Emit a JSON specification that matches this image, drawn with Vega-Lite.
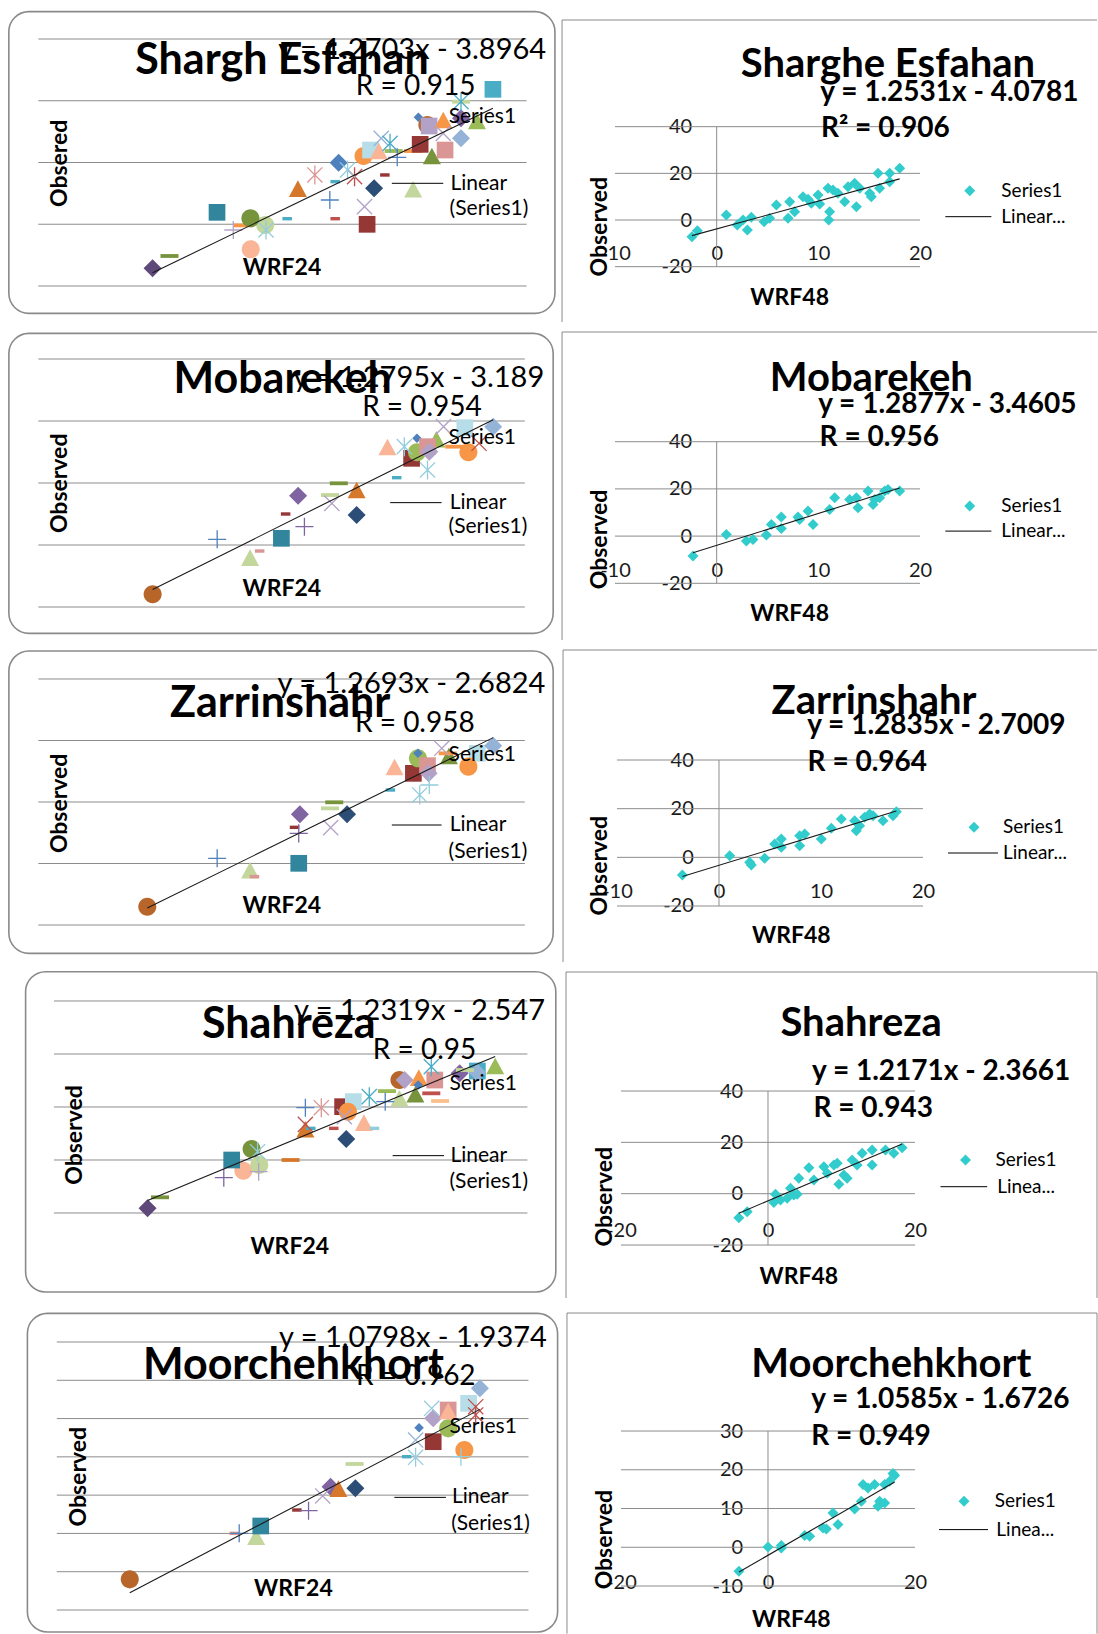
{
"$schema":"https://vega.github.io/schema/vega-lite/v6.json",
"padding":0,"spacing":0,"background":"white",
"resolve":{"scale":{"color":"independent","shape":"independent"}},
"datasets":{
"L1":[{"wrf":-2.98,"obs":-7.14,"marker":"diamond","tone":"purple-dark"},{"wrf":-1.94,"obs":-5.14,"marker":"dash","tone":"olive"},{"wrf":3.05,"obs":-4.06,"marker":"circle","tone":"peach"},{"wrf":1.98,"obs":-0.93,"marker":"plus","tone":"lavender"},{"wrf":3.99,"obs":-0.93,"marker":"asterisk","tone":"aqua-light"},{"wrf":3.94,"obs":-0.12,"marker":"circle","tone":"green-light"},{"wrf":2.57,"obs":-0.18,"marker":"dash","tone":"orange"},{"wrf":3.03,"obs":0.96,"marker":"circle","tone":"olive"},{"wrf":0.98,"obs":1.93,"marker":"square","tone":"teal-dark"},{"wrf":5.29,"obs":0.9,"marker":"sdash","tone":"aqua"},{"wrf":8.24,"obs":0.9,"marker":"sdash","tone":"red"},{"wrf":10.2,"obs":-0.01,"marker":"square","tone":"red-dark"},{"wrf":10.04,"obs":2.85,"marker":"x","tone":"lavender"},{"wrf":7.91,"obs":3.93,"marker":"plus","tone":"blue"},{"wrf":5.95,"obs":5.65,"marker":"triangle","tone":"orange-dark"},{"wrf":6.99,"obs":7.98,"marker":"asterisk","tone":"rose"},{"wrf":8.24,"obs":6.9,"marker":"sdash","tone":"aqua"},{"wrf":9.43,"obs":7.71,"marker":"asterisk","tone":"red"},{"wrf":8.45,"obs":9.97,"marker":"diamond","tone":"blue"},{"wrf":9.0,"obs":8.79,"marker":"asterisk","tone":"aqua-light"},{"wrf":10.63,"obs":5.82,"marker":"diamond","tone":"blue-dark"},{"wrf":11.29,"obs":7.98,"marker":"sdash","tone":"red-dark"},{"wrf":13.03,"obs":5.55,"marker":"triangle","tone":"green-light"},{"wrf":9.98,"obs":11.05,"marker":"circle","tone":"orange"},{"wrf":10.41,"obs":12.02,"marker":"square","tone":"sky"},{"wrf":10.92,"obs":11.75,"marker":"triangle","tone":"peach"},{"wrf":11.07,"obs":13.91,"marker":"x","tone":"blue-light"},{"wrf":11.61,"obs":13.1,"marker":"asterisk","tone":"aqua"},{"wrf":11.83,"obs":11.86,"marker":"dash","tone":"green"},{"wrf":12.05,"obs":10.84,"marker":"plus","tone":"blue"},{"wrf":13.03,"obs":11.86,"marker":"dash","tone":"orange"},{"wrf":13.46,"obs":12.94,"marker":"square","tone":"red-dark"},{"wrf":14.18,"obs":10.94,"marker":"triangle","tone":"olive"},{"wrf":14.99,"obs":12.02,"marker":"square","tone":"rose"},{"wrf":14.88,"obs":14.72,"marker":"x","tone":"lavender"},{"wrf":15.97,"obs":13.91,"marker":"diamond","tone":"blue-light"},{"wrf":13.35,"obs":17.31,"marker":"sdiamond","tone":"blue"},{"wrf":13.9,"obs":16.07,"marker":"circle","tone":"brown"},{"wrf":14.01,"obs":15.91,"marker":"square","tone":"lavender"},{"wrf":14.88,"obs":16.77,"marker":"triangle","tone":"orange"},{"wrf":15.97,"obs":17.15,"marker":"diamond","tone":"purple"},{"wrf":16.95,"obs":16.61,"marker":"triangle","tone":"green"},{"wrf":15.97,"obs":19.85,"marker":"asterisk","tone":"aqua"},{"wrf":15.97,"obs":19.85,"marker":"dash","tone":"green-light"},{"wrf":17.93,"obs":21.85,"marker":"square","tone":"aqua"}],
"L2":[{"wrf":-2.95,"obs":-7.96,"marker":"circle","tone":"brown"},{"wrf":3.06,"obs":-2.15,"marker":"triangle","tone":"green-light"},{"wrf":3.65,"obs":-0.97,"marker":"sdash","tone":"rose"},{"wrf":1.03,"obs":0.91,"marker":"plus","tone":"blue"},{"wrf":4.99,"obs":1.08,"marker":"square","tone":"teal-dark"},{"wrf":6.41,"obs":2.96,"marker":"plus","tone":"purple"},{"wrf":5.25,"obs":5.0,"marker":"sdash","tone":"red-dark"},{"wrf":6.02,"obs":7.96,"marker":"diamond","tone":"purple"},{"wrf":8.1,"obs":6.72,"marker":"x","tone":"lavender"},{"wrf":7.99,"obs":8.06,"marker":"dash","tone":"green-light"},{"wrf":8.53,"obs":9.95,"marker":"dash","tone":"olive"},{"wrf":9.63,"obs":8.76,"marker":"triangle","tone":"orange-dark"},{"wrf":9.63,"obs":4.84,"marker":"diamond","tone":"blue-dark"},{"wrf":12.1,"obs":10.86,"marker":"sdash","tone":"aqua"},{"wrf":11.53,"obs":15.7,"marker":"triangle","tone":"peach"},{"wrf":13.02,"obs":13.98,"marker":"square","tone":"red-dark"},{"wrf":14.0,"obs":12.1,"marker":"asterisk","tone":"aqua-light"},{"wrf":13.35,"obs":14.95,"marker":"circle","tone":"green"},{"wrf":13.35,"obs":17.2,"marker":"sdiamond","tone":"blue"},{"wrf":14.55,"obs":16.94,"marker":"triangle","tone":"green"},{"wrf":14.0,"obs":15.86,"marker":"square","tone":"rose"},{"wrf":14.11,"obs":15.05,"marker":"diamond","tone":"lavender"},{"wrf":14.99,"obs":19.09,"marker":"x","tone":"lavender"},{"wrf":16.3,"obs":18.92,"marker":"square","tone":"sky"},{"wrf":18.05,"obs":19.09,"marker":"diamond","tone":"blue-light"},{"wrf":16.52,"obs":14.95,"marker":"circle","tone":"orange"},{"wrf":17.18,"obs":16.4,"marker":"x","tone":"red"},{"wrf":15.65,"obs":15.86,"marker":"dash","tone":"orange"},{"wrf":12.57,"obs":15.86,"marker":"asterisk","tone":"aqua-light"}],
"L3":[{"wrf":-3.28,"obs":-7.02,"marker":"circle","tone":"brown"},{"wrf":3.06,"obs":-1.22,"marker":"triangle","tone":"green-light"},{"wrf":3.33,"obs":-2.14,"marker":"sdash","tone":"rose"},{"wrf":1.03,"obs":0.84,"marker":"plus","tone":"blue"},{"wrf":6.06,"obs":0.03,"marker":"square","tone":"teal-dark"},{"wrf":6.06,"obs":4.9,"marker":"plus","tone":"purple"},{"wrf":5.8,"obs":5.88,"marker":"sdash","tone":"red-dark"},{"wrf":6.13,"obs":8.0,"marker":"diamond","tone":"purple"},{"wrf":8.03,"obs":5.83,"marker":"x","tone":"lavender"},{"wrf":7.99,"obs":8.97,"marker":"dash","tone":"green-light"},{"wrf":8.25,"obs":9.95,"marker":"dash","tone":"olive"},{"wrf":9.04,"obs":8.0,"marker":"diamond","tone":"blue-dark"},{"wrf":11.71,"obs":11.95,"marker":"sdash","tone":"aqua"},{"wrf":11.97,"obs":15.58,"marker":"triangle","tone":"peach"},{"wrf":13.13,"obs":14.66,"marker":"square","tone":"red-dark"},{"wrf":13.52,"obs":11.14,"marker":"asterisk","tone":"aqua-light"},{"wrf":13.41,"obs":17.1,"marker":"circle","tone":"green"},{"wrf":13.41,"obs":17.91,"marker":"sdiamond","tone":"blue"},{"wrf":14.0,"obs":15.91,"marker":"square","tone":"rose"},{"wrf":14.07,"obs":14.66,"marker":"diamond","tone":"lavender"},{"wrf":14.88,"obs":18.73,"marker":"x","tone":"lavender"},{"wrf":15.32,"obs":17.37,"marker":"triangle","tone":"olive"},{"wrf":15.25,"obs":17.91,"marker":"dash","tone":"orange"},{"wrf":17.07,"obs":17.91,"marker":"square","tone":"sky"},{"wrf":18.05,"obs":19.16,"marker":"diamond","tone":"blue-light"},{"wrf":16.52,"obs":15.75,"marker":"circle","tone":"orange"},{"wrf":14.11,"obs":12.76,"marker":"plus","tone":"aqua-light"}],
"L4":[{"wrf":-4.07,"obs":-9.12,"marker":"diamond","tone":"purple-dark"},{"wrf":-3.28,"obs":-7.04,"marker":"dash","tone":"olive"},{"wrf":0.76,"obs":-3.33,"marker":"plus","tone":"purple"},{"wrf":2.0,"obs":-2.01,"marker":"circle","tone":"peach"},{"wrf":2.97,"obs":-2.2,"marker":"plus","tone":"lavender"},{"wrf":1.26,"obs":0.0,"marker":"square","tone":"teal-dark"},{"wrf":3.01,"obs":-0.94,"marker":"circle","tone":"green-light"},{"wrf":2.52,"obs":2.08,"marker":"circle","tone":"olive"},{"wrf":2.9,"obs":1.57,"marker":"asterisk","tone":"aqua-light"},{"wrf":4.99,"obs":0.0,"marker":"dash","tone":"orange-dark"},{"wrf":5.93,"obs":5.66,"marker":"triangle","tone":"orange-dark"},{"wrf":5.93,"obs":6.73,"marker":"x","tone":"red"},{"wrf":6.27,"obs":5.97,"marker":"sdash","tone":"aqua"},{"wrf":5.93,"obs":9.87,"marker":"plus","tone":"blue"},{"wrf":6.94,"obs":9.87,"marker":"asterisk","tone":"rose"},{"wrf":7.73,"obs":5.97,"marker":"sdash","tone":"red"},{"wrf":8.52,"obs":3.96,"marker":"diamond","tone":"blue-dark"},{"wrf":8.29,"obs":10.06,"marker":"square","tone":"red-dark"},{"wrf":8.97,"obs":11.01,"marker":"square","tone":"sky"},{"wrf":8.63,"obs":9.12,"marker":"circle","tone":"orange"},{"wrf":8.4,"obs":8.18,"marker":"x","tone":"lavender"},{"wrf":9.64,"obs":6.92,"marker":"triangle","tone":"peach"},{"wrf":10.31,"obs":5.97,"marker":"sdash","tone":"aqua-light"},{"wrf":9.98,"obs":11.95,"marker":"asterisk","tone":"aqua"},{"wrf":10.99,"obs":11.01,"marker":"plus","tone":"blue"},{"wrf":11.1,"obs":13.0,"marker":"dash","tone":"green"},{"wrf":11.89,"obs":11.51,"marker":"triangle","tone":"green-light"},{"wrf":12.9,"obs":12.26,"marker":"triangle","tone":"olive"},{"wrf":11.89,"obs":15.09,"marker":"circle","tone":"brown"},{"wrf":12.22,"obs":15.09,"marker":"diamond","tone":"lavender"},{"wrf":13.12,"obs":15.41,"marker":"triangle","tone":"orange"},{"wrf":13.08,"obs":14.15,"marker":"sdiamond","tone":"blue"},{"wrf":14.13,"obs":15.09,"marker":"square","tone":"rose"},{"wrf":13.91,"obs":12.58,"marker":"dash","tone":"red"},{"wrf":14.47,"obs":11.13,"marker":"dash","tone":"orange-light"},{"wrf":13.91,"obs":17.61,"marker":"asterisk","tone":"aqua"},{"wrf":15.71,"obs":16.35,"marker":"diamond","tone":"purple"},{"wrf":16.83,"obs":16.79,"marker":"square","tone":"aqua"},{"wrf":16.83,"obs":16.5,"marker":"diamond","tone":"blue-light"},{"wrf":17.96,"obs":17.61,"marker":"triangle","tone":"green"},{"wrf":16.04,"obs":16.98,"marker":"dash","tone":"green-light"}],
"L5":[{"wrf":-5.36,"obs":-6.0,"marker":"circle","tone":"brown"},{"wrf":1.28,"obs":0.01,"marker":"sdash","tone":"rose"},{"wrf":1.6,"obs":0.01,"marker":"plus","tone":"blue"},{"wrf":2.68,"obs":-0.51,"marker":"triangle","tone":"green-light"},{"wrf":2.97,"obs":0.97,"marker":"square","tone":"teal-dark"},{"wrf":5.27,"obs":3.06,"marker":"sdash","tone":"red-dark"},{"wrf":6.01,"obs":2.97,"marker":"plus","tone":"purple"},{"wrf":6.91,"obs":4.89,"marker":"x","tone":"lavender"},{"wrf":7.41,"obs":6.11,"marker":"diamond","tone":"purple"},{"wrf":7.91,"obs":5.76,"marker":"triangle","tone":"orange-dark"},{"wrf":8.99,"obs":5.89,"marker":"diamond","tone":"blue-dark"},{"wrf":8.94,"obs":9.07,"marker":"dash","tone":"green-light"},{"wrf":12.25,"obs":10.02,"marker":"sdash","tone":"aqua"},{"wrf":12.82,"obs":9.94,"marker":"asterisk","tone":"aqua-light"},{"wrf":12.82,"obs":12.2,"marker":"x","tone":"blue-light"},{"wrf":13.04,"obs":13.81,"marker":"sdiamond","tone":"blue"},{"wrf":13.94,"obs":11.98,"marker":"square","tone":"red-dark"},{"wrf":13.94,"obs":15.03,"marker":"diamond","tone":"lavender"},{"wrf":14.89,"obs":13.72,"marker":"circle","tone":"green"},{"wrf":14.89,"obs":16.12,"marker":"square","tone":"rose"},{"wrf":14.89,"obs":15.9,"marker":"triangle","tone":"peach"},{"wrf":15.92,"obs":10.89,"marker":"circle","tone":"orange"},{"wrf":15.7,"obs":10.02,"marker":"plus","tone":"aqua-light"},{"wrf":16.19,"obs":16.99,"marker":"square","tone":"sky"},{"wrf":16.91,"obs":18.95,"marker":"diamond","tone":"blue-light"},{"wrf":16.64,"obs":16.55,"marker":"x","tone":"red"},{"wrf":16.64,"obs":15.47,"marker":"asterisk","tone":"red"},{"wrf":13.84,"obs":16.34,"marker":"x","tone":"aqua-light"}],
"R1":[{"wrf":-2.43,"obs":-7.14},{"wrf":-1.9,"obs":-4.57},{"wrf":0.95,"obs":2.14},{"wrf":2.03,"obs":-2.14},{"wrf":2.59,"obs":0},{"wrf":3.02,"obs":-4.29},{"wrf":3.41,"obs":1.14},{"wrf":4.66,"obs":-0.71},{"wrf":5.21,"obs":0.71},{"wrf":5.87,"obs":6.43},{"wrf":7.02,"obs":0.71},{"wrf":7.18,"obs":7.86},{"wrf":7.67,"obs":3.57},{"wrf":8.49,"obs":10.0},{"wrf":8.98,"obs":8.86},{"wrf":9.31,"obs":7.14},{"wrf":9.97,"obs":10.71},{"wrf":10.13,"obs":6.86},{"wrf":10.95,"obs":13.57},{"wrf":11.11,"obs":3.57},{"wrf":11.02,"obs":0},{"wrf":11.44,"obs":12.86},{"wrf":11.93,"obs":11.43},{"wrf":12.59,"obs":7.86},{"wrf":12.92,"obs":14.29},{"wrf":13.57,"obs":15.71},{"wrf":13.74,"obs":5.71},{"wrf":14.07,"obs":13.57},{"wrf":15.05,"obs":11.43},{"wrf":15.21,"obs":10.0},{"wrf":15.87,"obs":20.0},{"wrf":16.03,"obs":13.57},{"wrf":17.02,"obs":16.43},{"wrf":17.02,"obs":20.0},{"wrf":18.0,"obs":22.14}],
"R2":[{"wrf":-2.33,"obs":-8.47},{"wrf":0.95,"obs":0.71},{"wrf":2.92,"obs":-2.12},{"wrf":3.57,"obs":-1.41},{"wrf":4.89,"obs":0.42},{"wrf":5.38,"obs":4.94},{"wrf":6.36,"obs":3.25},{"wrf":6.36,"obs":8.05},{"wrf":8.0,"obs":8.05},{"wrf":8.16,"obs":7.06},{"wrf":8.98,"obs":10.59},{"wrf":9.48,"obs":4.94},{"wrf":11.11,"obs":11.3},{"wrf":11.61,"obs":16.24},{"wrf":13.08,"obs":15.54},{"wrf":13.74,"obs":16.24},{"wrf":13.9,"obs":12.01},{"wrf":14.89,"obs":19.07},{"wrf":15.38,"obs":13.42},{"wrf":15.54,"obs":15.54},{"wrf":16.03,"obs":16.24},{"wrf":16.52,"obs":19.07},{"wrf":16.85,"obs":19.77},{"wrf":18.0,"obs":19.07}],
"R3":[{"wrf":-3.59,"obs":-7.26},{"wrf":1.05,"obs":0.68},{"wrf":3.01,"obs":-2.05},{"wrf":3.17,"obs":-3.15},{"wrf":4.48,"obs":-0.41},{"wrf":5.46,"obs":5.48},{"wrf":6.11,"obs":7.53},{"wrf":6.11,"obs":4.11},{"wrf":7.91,"obs":8.9},{"wrf":7.91,"obs":4.79},{"wrf":8.4,"obs":9.59},{"wrf":10.03,"obs":7.53},{"wrf":11.01,"obs":11.92},{"wrf":11.99,"obs":15.75},{"wrf":13.3,"obs":15.07},{"wrf":13.46,"obs":10.96},{"wrf":13.79,"obs":13.01},{"wrf":14.28,"obs":16.44},{"wrf":14.77,"obs":17.81},{"wrf":15.1,"obs":17.12},{"wrf":16.08,"obs":15.07},{"wrf":17.06,"obs":17.12},{"wrf":17.39,"obs":18.77}],
"R4":[{"wrf":-3.97,"obs":-9.35},{"wrf":-2.83,"obs":-7.01},{"wrf":1.02,"obs":-0.26},{"wrf":0.79,"obs":-3.38},{"wrf":1.7,"obs":-2.47},{"wrf":2.61,"obs":-1.82},{"wrf":3.06,"obs":2.08},{"wrf":3.51,"obs":-0.52},{"wrf":3.97,"obs":-0.26},{"wrf":4.19,"obs":5.97},{"wrf":5.56,"obs":10.13},{"wrf":6.24,"obs":5.32},{"wrf":7.6,"obs":10.52},{"wrf":8.05,"obs":7.92},{"wrf":8.96,"obs":11.17},{"wrf":9.41,"obs":11.82},{"wrf":9.64,"obs":3.64},{"wrf":10.32,"obs":7.27},{"wrf":10.77,"obs":5.97},{"wrf":11.45,"obs":13.12},{"wrf":12.13,"obs":11.17},{"wrf":12.81,"obs":15.71},{"wrf":14.17,"obs":17.01},{"wrf":14.17,"obs":11.17},{"wrf":15.99,"obs":17.01},{"wrf":17.12,"obs":15.71},{"wrf":18.25,"obs":17.92}],
"R5":[{"wrf":-3.95,"obs":-6.19},{"wrf":0,"obs":0.09},{"wrf":1.81,"obs":-0.17},{"wrf":1.81,"obs":0.43},{"wrf":4.99,"obs":3.01},{"wrf":5.67,"obs":2.84},{"wrf":7.48,"obs":4.99},{"wrf":7.94,"obs":4.73},{"wrf":8.84,"obs":8.86},{"wrf":9.52,"obs":5.85},{"wrf":11.79,"obs":9.89},{"wrf":12.7,"obs":11.87},{"wrf":12.93,"obs":16.17},{"wrf":13.61,"obs":15.31},{"wrf":14.51,"obs":16.17},{"wrf":14.97,"obs":10.58},{"wrf":15.19,"obs":11.87},{"wrf":15.87,"obs":11.44},{"wrf":15.87,"obs":16.17},{"wrf":16.55,"obs":17.03},{"wrf":17.01,"obs":19.01},{"wrf":17.23,"obs":18.49}]
},
"vconcat":[
{"hconcat":[
{"width":560,"height":325,"data":{"values":[{}]},"layer":[
{"mark":{"type":"rect","filled":false,"stroke":"#8a8a8a","strokeWidth":1.6,"cornerRadius":20},"encoding":{"x":{"datum":-11.81,"type":"quantitative","scale":{"domain":[-12.353,22.051],"nice":false,"zero":false},"axis":null},"x2":{"datum":21.74},"y":{"datum":34.43,"type":"quantitative","scale":{"domain":[-16.316,36.316],"nice":false,"zero":false},"axis":null},"y2":{"datum":-14.43}}},
{"data":{"values":[{"level":-10},{"level":0},{"level":10},{"level":20},{"level":30}]},"mark":{"type":"rule","color":"#8c8c8c"},"encoding":{"x":{"datum":-10,"axis":null},"x2":{"datum":20},"y":{"field":"level","type":"quantitative","axis":null}}},
{"data":{"name":"L1"},"encoding":{"x":{"field":"wrf","type":"quantitative","axis":null},"y":{"field":"obs","type":"quantitative","axis":null},"shape":{"field":"marker","type":"nominal","legend":null,"scale":{"domain":["diamond","square","triangle","circle","dash","sdash","sdiamond","x","asterisk","plus"],"range":["M0,-0.95L0.95,0L0,0.95L-0.95,0Z","M-0.88,-0.88H0.88V0.88H-0.88Z","M0,-0.95L0.95,0.8H-0.95Z","M-0.95,0A0.95,0.95,0,1,0,0.95,0A0.95,0.95,0,1,0,-0.95,0Z","M-0.95,-0.2H0.95V0.2H-0.95Z","M-0.5,-0.18H0.5V0.18H-0.5Z","M0,-0.5L0.5,0L0,0.5L-0.5,0Z","M-0.8,-0.8L0.8,0.8M-0.8,0.8L0.8,-0.8","M-0.8,-0.8L0.8,0.8M-0.8,0.8L0.8,-0.8M0,-1V1","M-0.95,0H0.95M0,-0.95V0.95"]}},"color":{"field":"tone","type":"nominal","legend":null,"scale":{"domain":["purple-dark","purple","lavender","blue","blue-dark","blue-light","red","red-dark","rose","green","olive","green-light","aqua","teal-dark","aqua-light","sky","orange","orange-dark","orange-light","brown","peach"],"range":["#5F497A","#8064A2","#B3A2C7","#4F81BD","#2C4D75","#95B3D7","#C0504D","#953735","#D99694","#9BBB59","#77933C","#C3D69B","#4BACC6","#31859C","#93CDDD","#B7DEE8","#F79646","#D5782C","#FABF8F","#B8652A","#F9B596"]}}},"layer":[
{"transform":[{"filter":{"not":{"field":"marker","oneOf":["x","asterisk","plus"]}}}],"mark":{"type":"point","filled":true,"size":360,"opacity":1}},
{"transform":[{"filter":{"field":"marker","oneOf":["x","asterisk","plus"]}}],"mark":{"type":"point","filled":false,"size":360,"strokeWidth":1.3,"opacity":1}}]},
{"data":{"name":"L1"},"transform":[{"regression":"obs","on":"wrf"}],"mark":{"type":"line","color":"#1a1a1a","strokeWidth":1.1},"encoding":{"x":{"field":"wrf","type":"quantitative","axis":null},"y":{"field":"obs","type":"quantitative","axis":null}}},
{"mark":{"type":"text","style":"ttlL"},"encoding":{"x":{"datum":4.97,"axis":null},"y":{"datum":24.33,"axis":null},"text":{"value":"Shargh Esfahan"}}},
{"mark":{"type":"text","style":"eqL"},"encoding":{"x":{"datum":21.2,"axis":null},"y":{"datum":26.71,"axis":null},"text":{"value":"y = 1.2703x - 3.8964"}}},
{"mark":{"type":"text","style":"rL"},"encoding":{"x":{"datum":13.18,"axis":null},"y":{"datum":20.93,"axis":null},"text":{"value":"R = 0.915"}}},
{"mark":{"type":"text","style":"lgL"},"encoding":{"x":{"datum":15.21,"axis":null},"y":{"datum":17.31,"axis":null},"text":{"value":"Series1"}}},
{"mark":{"type":"rule","color":"#000"},"encoding":{"x":{"datum":11.72,"axis":null},"x2":{"datum":14.88},"y":{"datum":6.63,"axis":null}}},
{"mark":{"type":"text","style":"lgL"},"encoding":{"x":{"datum":15.32,"axis":null},"y":{"datum":6.52,"axis":null},"text":{"value":"Linear"}}},
{"mark":{"type":"text","style":"lgL"},"encoding":{"x":{"datum":15.27,"axis":null},"y":{"datum":2.42,"axis":null},"text":{"value":"(Series1)"}}},
{"mark":{"type":"text","style":"axv"},"encoding":{"x":{"datum":-8.65,"axis":null},"y":{"datum":9.87,"axis":null},"text":{"value":"Obsered"}}},
{"mark":{"type":"text","style":"axh"},"encoding":{"x":{"datum":4.97,"axis":null},"y":{"datum":-7.14,"axis":null},"text":{"value":"WRF24"}}}
]},
{"width":538,"height":325,"data":{"values":[{}]},"resolve":{"axis":{"x":"independent","y":"independent"}},"layer":[
{"mark":{"type":"rule","color":"#8a8a8a"},"encoding":{"x":{"datum":-15.21,"type":"quantitative","scale":{"domain":[-15.41,37.506],"nice":false,"zero":false},"axis":{"orient":"bottom","values":[-10,0,10,20],"offset":-71.7,"domain":false,"ticks":false,"tickSize":0,"grid":false,"labelPadding":0,"labelBaseline":"middle","labelFontSize":20,"labelColor":"#1a1a1a","labelFlush":false,"labelOverlap":false,"labelExpr":"datum.value + ''","title":null}},"x2":{"datum":37.41},"y":{"datum":85.73,"type":"quantitative","scale":{"domain":[-45.0,94.3],"nice":false,"zero":false},"axis":{"orient":"left","values":[-20,0,20,40],"offset":-131.7,"domain":false,"ticks":false,"tickSize":0,"grid":false,"labelPadding":0,"labelAlign":"right","labelBaseline":"middle","labelFontSize":20,"labelColor":"#1a1a1a","labelOverlap":false,"labelExpr":"datum.value + ''","title":null}}}},
{"mark":{"type":"rule","color":"#8a8a8a"},"encoding":{"x":{"datum":-15.21,"axis":null},"y":{"datum":85.73,"axis":null},"y2":{"datum":-43.71}}},
{"data":{"values":[{"level":-20},{"level":0},{"level":20},{"level":40}]},"mark":{"type":"rule","color":"#8c8c8c"},"encoding":{"x":{"datum":-10,"axis":null},"x2":{"datum":20},"y":{"field":"level","type":"quantitative","axis":null}}},
{"mark":{"type":"rule","color":"#8c8c8c"},"encoding":{"x":{"datum":0,"axis":null},"y":{"datum":-20,"axis":null},"y2":{"datum":40}}},
{"data":{"name":"R1"},"mark":{"type":"point","shape":"diamond","filled":true,"color":"#33CCCC","size":121,"opacity":1},"encoding":{"x":{"field":"wrf","type":"quantitative","axis":null},"y":{"field":"obs","type":"quantitative","axis":null}}},
{"data":{"name":"R1"},"transform":[{"regression":"obs","on":"wrf"}],"mark":{"type":"line","color":"#1a1a1a","strokeWidth":1.1},"encoding":{"x":{"field":"wrf","type":"quantitative","axis":null},"y":{"field":"obs","type":"quantitative","axis":null}}},
{"mark":{"type":"text","style":"ttlR"},"encoding":{"x":{"datum":16.85,"axis":null},"y":{"datum":61.1,"axis":null},"text":{"value":"Sharghe Esfahan"}}},
{"mark":{"type":"text","style":"eqR"},"encoding":{"x":{"datum":22.89,"axis":null},"y":{"datum":50.8,"axis":null},"text":{"value":"y = 1.2531x - 4.0781"}}},
{"mark":{"type":"text","style":"eqR"},"encoding":{"x":{"datum":16.59,"axis":null},"y":{"datum":35.7,"axis":null},"text":{"value":"R² = 0.906"}}},
{"mark":{"type":"point","shape":"diamond","filled":true,"color":"#33CCCC","size":121,"opacity":1},"encoding":{"x":{"datum":24.89,"axis":null},"y":{"datum":12.57,"axis":null}}},
{"mark":{"type":"text","style":"lgR"},"encoding":{"x":{"datum":28.0,"axis":null},"y":{"datum":12.57,"axis":null},"text":{"value":"Series1"}}},
{"mark":{"type":"rule","color":"#000"},"encoding":{"x":{"datum":22.49,"axis":null},"x2":{"datum":27.02},"y":{"datum":1.43,"axis":null}}},
{"mark":{"type":"text","style":"lgR"},"encoding":{"x":{"datum":28.0,"axis":null},"y":{"datum":1.43,"axis":null},"text":{"value":"Linear..."}}},
{"mark":{"type":"text","style":"axv"},"encoding":{"x":{"datum":-11.51,"axis":null},"y":{"datum":-2.86,"axis":null},"text":{"value":"Observed"}}},
{"mark":{"type":"text","style":"axh"},"encoding":{"x":{"datum":7.18,"axis":null},"y":{"datum":-33.29,"axis":null},"text":{"value":"WRF48"}}}
]}
],"spacing":0,"bounds":"flush","resolve":{"scale":{"color":"independent","shape":"independent"}}},
{"hconcat":[
{"width":560,"height":320,"data":{"values":[{}]},"layer":[
{"mark":{"type":"rect","filled":false,"stroke":"#8a8a8a","strokeWidth":1.6,"cornerRadius":20},"encoding":{"x":{"datum":-11.815,"type":"quantitative","scale":{"domain":[-12.362,22.17],"nice":false,"zero":false},"axis":null},"x2":{"datum":21.749},"y":{"datum":34.14,"type":"quantitative","scale":{"domain":[-16.129,35.484],"nice":false,"zero":false},"axis":null},"y2":{"datum":-14.25}}},
{"data":{"values":[{"level":-10},{"level":0},{"level":10},{"level":20},{"level":30}]},"mark":{"type":"rule","color":"#8c8c8c"},"encoding":{"x":{"datum":-10,"axis":null},"x2":{"datum":20},"y":{"field":"level","type":"quantitative","axis":null}}},
{"data":{"name":"L2"},"encoding":{"x":{"field":"wrf","type":"quantitative","axis":null},"y":{"field":"obs","type":"quantitative","axis":null},"shape":{"field":"marker","type":"nominal","legend":null,"scale":{"domain":["diamond","square","triangle","circle","dash","sdash","sdiamond","x","asterisk","plus"],"range":["M0,-0.95L0.95,0L0,0.95L-0.95,0Z","M-0.88,-0.88H0.88V0.88H-0.88Z","M0,-0.95L0.95,0.8H-0.95Z","M-0.95,0A0.95,0.95,0,1,0,0.95,0A0.95,0.95,0,1,0,-0.95,0Z","M-0.95,-0.2H0.95V0.2H-0.95Z","M-0.5,-0.18H0.5V0.18H-0.5Z","M0,-0.5L0.5,0L0,0.5L-0.5,0Z","M-0.8,-0.8L0.8,0.8M-0.8,0.8L0.8,-0.8","M-0.8,-0.8L0.8,0.8M-0.8,0.8L0.8,-0.8M0,-1V1","M-0.95,0H0.95M0,-0.95V0.95"]}},"color":{"field":"tone","type":"nominal","legend":null,"scale":{"domain":["purple-dark","purple","lavender","blue","blue-dark","blue-light","red","red-dark","rose","green","olive","green-light","aqua","teal-dark","aqua-light","sky","orange","orange-dark","orange-light","brown","peach"],"range":["#5F497A","#8064A2","#B3A2C7","#4F81BD","#2C4D75","#95B3D7","#C0504D","#953735","#D99694","#9BBB59","#77933C","#C3D69B","#4BACC6","#31859C","#93CDDD","#B7DEE8","#F79646","#D5782C","#FABF8F","#B8652A","#F9B596"]}}},"layer":[
{"transform":[{"filter":{"not":{"field":"marker","oneOf":["x","asterisk","plus"]}}}],"mark":{"type":"point","filled":true,"size":360,"opacity":1}},
{"transform":[{"filter":{"field":"marker","oneOf":["x","asterisk","plus"]}}],"mark":{"type":"point","filled":false,"size":360,"strokeWidth":1.3,"opacity":1}}]},
{"data":{"name":"L2"},"transform":[{"regression":"obs","on":"wrf"}],"mark":{"type":"line","color":"#1a1a1a","strokeWidth":1.1},"encoding":{"x":{"field":"wrf","type":"quantitative","axis":null},"y":{"field":"obs","type":"quantitative","axis":null}}},
{"mark":{"type":"text","style":"ttlL"},"encoding":{"x":{"datum":5.07,"axis":null},"y":{"datum":24.46,"axis":null},"text":{"value":"Mobarekeh"}}},
{"mark":{"type":"text","style":"eqL"},"encoding":{"x":{"datum":21.2,"axis":null},"y":{"datum":25.54,"axis":null},"text":{"value":"y = 1.2795x - 3.189"}}},
{"mark":{"type":"text","style":"rL"},"encoding":{"x":{"datum":13.66,"axis":null},"y":{"datum":20.81,"axis":null},"text":{"value":"R = 0.954"}}},
{"mark":{"type":"text","style":"lgL"},"encoding":{"x":{"datum":15.3,"axis":null},"y":{"datum":17.2,"axis":null},"text":{"value":"Series1"}}},
{"mark":{"type":"rule","color":"#000"},"encoding":{"x":{"datum":11.7,"axis":null},"x2":{"datum":14.87},"y":{"datum":6.83,"axis":null}}},
{"mark":{"type":"text","style":"lgL"},"encoding":{"x":{"datum":15.37,"axis":null},"y":{"datum":6.72,"axis":null},"text":{"value":"Linear"}}},
{"mark":{"type":"text","style":"lgL"},"encoding":{"x":{"datum":15.3,"axis":null},"y":{"datum":2.96,"axis":null},"text":{"value":"(Series1)"}}},
{"mark":{"type":"text","style":"axv"},"encoding":{"x":{"datum":-8.64,"axis":null},"y":{"datum":9.95,"axis":null},"text":{"value":"Observed"}}},
{"mark":{"type":"text","style":"axh"},"encoding":{"x":{"datum":5.02,"axis":null},"y":{"datum":-7.1,"axis":null},"text":{"value":"WRF24"}}}
]},
{"width":538,"height":320,"data":{"values":[{}]},"resolve":{"axis":{"x":"independent","y":"independent"}},"layer":[
{"mark":{"type":"rule","color":"#8a8a8a"},"encoding":{"x":{"datum":-15.21,"type":"quantitative","scale":{"domain":[-15.41,37.506],"nice":false,"zero":false},"axis":{"orient":"bottom","values":[-10,0,10,20],"offset":-75,"domain":false,"ticks":false,"tickSize":0,"grid":false,"labelPadding":0,"labelBaseline":"middle","labelFontSize":20,"labelColor":"#1a1a1a","labelFlush":false,"labelOverlap":false,"labelExpr":"datum.value + ''","title":null}},"x2":{"datum":37.41},"y":{"datum":86.48,"type":"quantitative","scale":{"domain":[-46.14,89.45],"nice":false,"zero":false},"axis":{"orient":"left","values":[-20,0,20,40],"offset":-131.7,"domain":false,"ticks":false,"tickSize":0,"grid":false,"labelPadding":0,"labelAlign":"right","labelBaseline":"middle","labelFontSize":20,"labelColor":"#1a1a1a","labelOverlap":false,"labelExpr":"datum.value + ''","title":null}}}},
{"mark":{"type":"rule","color":"#8a8a8a"},"encoding":{"x":{"datum":-15.21,"axis":null},"y":{"datum":86.48,"axis":null},"y2":{"datum":-44.03}}},
{"data":{"values":[{"level":-20},{"level":0},{"level":20},{"level":40}]},"mark":{"type":"rule","color":"#8c8c8c"},"encoding":{"x":{"datum":-10,"axis":null},"x2":{"datum":20},"y":{"field":"level","type":"quantitative","axis":null}}},
{"mark":{"type":"rule","color":"#8c8c8c"},"encoding":{"x":{"datum":0,"axis":null},"y":{"datum":-20,"axis":null},"y2":{"datum":40}}},
{"data":{"name":"R2"},"mark":{"type":"point","shape":"diamond","filled":true,"color":"#33CCCC","size":121,"opacity":1},"encoding":{"x":{"field":"wrf","type":"quantitative","axis":null},"y":{"field":"obs","type":"quantitative","axis":null}}},
{"data":{"name":"R2"},"transform":[{"regression":"obs","on":"wrf"}],"mark":{"type":"line","color":"#1a1a1a","strokeWidth":1.1},"encoding":{"x":{"field":"wrf","type":"quantitative","axis":null},"y":{"field":"obs","type":"quantitative","axis":null}}},
{"mark":{"type":"text","style":"ttlR"},"encoding":{"x":{"datum":15.21,"axis":null},"y":{"datum":61.44,"axis":null},"text":{"value":"Mobarekeh"}}},
{"mark":{"type":"text","style":"eqR"},"encoding":{"x":{"datum":22.69,"axis":null},"y":{"datum":52.1,"axis":null},"text":{"value":"y = 1.2877x - 3.4605"}}},
{"mark":{"type":"text","style":"eqR"},"encoding":{"x":{"datum":16.0,"axis":null},"y":{"datum":38.14,"axis":null},"text":{"value":"R = 0.956"}}},
{"mark":{"type":"point","shape":"diamond","filled":true,"color":"#33CCCC","size":121,"opacity":1},"encoding":{"x":{"datum":24.89,"axis":null},"y":{"datum":12.71,"axis":null}}},
{"mark":{"type":"text","style":"lgR"},"encoding":{"x":{"datum":28.0,"axis":null},"y":{"datum":12.71,"axis":null},"text":{"value":"Series1"}}},
{"mark":{"type":"rule","color":"#000"},"encoding":{"x":{"datum":22.49,"axis":null},"x2":{"datum":27.02},"y":{"datum":2.12,"axis":null}}},
{"mark":{"type":"text","style":"lgR"},"encoding":{"x":{"datum":28.0,"axis":null},"y":{"datum":2.12,"axis":null},"text":{"value":"Linear..."}}},
{"mark":{"type":"text","style":"axv"},"encoding":{"x":{"datum":-11.51,"axis":null},"y":{"datum":-1.41,"axis":null},"text":{"value":"Observed"}}},
{"mark":{"type":"text","style":"axh"},"encoding":{"x":{"datum":7.18,"axis":null},"y":{"datum":-33.19,"axis":null},"text":{"value":"WRF48"}}}
]}
],"spacing":0,"bounds":"flush","resolve":{"scale":{"color":"independent","shape":"independent"}}},
{"hconcat":[
{"width":560,"height":320,"data":{"values":[{}]},"layer":[
{"mark":{"type":"rect","filled":false,"stroke":"#8a8a8a","strokeWidth":1.6,"cornerRadius":20},"encoding":{"x":{"datum":-11.815,"type":"quantitative","scale":{"domain":[-12.362,22.17],"nice":false,"zero":false},"axis":null},"x2":{"datum":21.749},"y":{"datum":34.55,"type":"quantitative","scale":{"domain":[-16.504,35.528],"nice":false,"zero":false},"axis":null},"y2":{"datum":-14.61}}},
{"data":{"values":[{"level":-10},{"level":0},{"level":10},{"level":20},{"level":30}]},"mark":{"type":"rule","color":"#8c8c8c"},"encoding":{"x":{"datum":-10,"axis":null},"x2":{"datum":20},"y":{"field":"level","type":"quantitative","axis":null}}},
{"data":{"name":"L3"},"encoding":{"x":{"field":"wrf","type":"quantitative","axis":null},"y":{"field":"obs","type":"quantitative","axis":null},"shape":{"field":"marker","type":"nominal","legend":null,"scale":{"domain":["diamond","square","triangle","circle","dash","sdash","sdiamond","x","asterisk","plus"],"range":["M0,-0.95L0.95,0L0,0.95L-0.95,0Z","M-0.88,-0.88H0.88V0.88H-0.88Z","M0,-0.95L0.95,0.8H-0.95Z","M-0.95,0A0.95,0.95,0,1,0,0.95,0A0.95,0.95,0,1,0,-0.95,0Z","M-0.95,-0.2H0.95V0.2H-0.95Z","M-0.5,-0.18H0.5V0.18H-0.5Z","M0,-0.5L0.5,0L0,0.5L-0.5,0Z","M-0.8,-0.8L0.8,0.8M-0.8,0.8L0.8,-0.8","M-0.8,-0.8L0.8,0.8M-0.8,0.8L0.8,-0.8M0,-1V1","M-0.95,0H0.95M0,-0.95V0.95"]}},"color":{"field":"tone","type":"nominal","legend":null,"scale":{"domain":["purple-dark","purple","lavender","blue","blue-dark","blue-light","red","red-dark","rose","green","olive","green-light","aqua","teal-dark","aqua-light","sky","orange","orange-dark","orange-light","brown","peach"],"range":["#5F497A","#8064A2","#B3A2C7","#4F81BD","#2C4D75","#95B3D7","#C0504D","#953735","#D99694","#9BBB59","#77933C","#C3D69B","#4BACC6","#31859C","#93CDDD","#B7DEE8","#F79646","#D5782C","#FABF8F","#B8652A","#F9B596"]}}},"layer":[
{"transform":[{"filter":{"not":{"field":"marker","oneOf":["x","asterisk","plus"]}}}],"mark":{"type":"point","filled":true,"size":360,"opacity":1}},
{"transform":[{"filter":{"field":"marker","oneOf":["x","asterisk","plus"]}}],"mark":{"type":"point","filled":false,"size":360,"strokeWidth":1.3,"opacity":1}}]},
{"data":{"name":"L3"},"transform":[{"regression":"obs","on":"wrf"}],"mark":{"type":"line","color":"#1a1a1a","strokeWidth":1.1},"encoding":{"x":{"field":"wrf","type":"quantitative","axis":null},"y":{"field":"obs","type":"quantitative","axis":null}}},
{"mark":{"type":"text","style":"ttlL"},"encoding":{"x":{"datum":4.91,"axis":null},"y":{"datum":23.88,"axis":null},"text":{"value":"Zarrinshahr"}}},
{"mark":{"type":"text","style":"eqL"},"encoding":{"x":{"datum":21.27,"axis":null},"y":{"datum":27.67,"axis":null},"text":{"value":"y = 1.2693x - 2.6824"}}},
{"mark":{"type":"text","style":"rL"},"encoding":{"x":{"datum":13.22,"axis":null},"y":{"datum":21.33,"axis":null},"text":{"value":"R = 0.958"}}},
{"mark":{"type":"text","style":"lgL"},"encoding":{"x":{"datum":15.3,"axis":null},"y":{"datum":17.64,"axis":null},"text":{"value":"Series1"}}},
{"mark":{"type":"rule","color":"#000"},"encoding":{"x":{"datum":11.8,"axis":null},"x2":{"datum":14.87},"y":{"datum":6.26,"axis":null}}},
{"mark":{"type":"text","style":"lgL"},"encoding":{"x":{"datum":15.37,"axis":null},"y":{"datum":6.26,"axis":null},"text":{"value":"Linear"}}},
{"mark":{"type":"text","style":"lgL"},"encoding":{"x":{"datum":15.3,"axis":null},"y":{"datum":1.92,"axis":null},"text":{"value":"(Series1)"}}},
{"mark":{"type":"text","style":"axv"},"encoding":{"x":{"datum":-8.64,"axis":null},"y":{"datum":9.78,"axis":null},"text":{"value":"Observed"}}},
{"mark":{"type":"text","style":"axh"},"encoding":{"x":{"datum":5.02,"axis":null},"y":{"datum":-6.86,"axis":null},"text":{"value":"WRF24"}}}
]},
{"width":538,"height":320,"data":{"values":[{}]},"resolve":{"axis":{"x":"independent","y":"independent"}},"layer":[
{"mark":{"type":"rule","color":"#8a8a8a"},"encoding":{"x":{"datum":-15.29,"type":"quantitative","scale":{"domain":[-15.588,37.157],"nice":false,"zero":false},"axis":{"orient":"bottom","values":[-10,0,10,20],"offset":-73.3,"domain":false,"ticks":false,"tickSize":0,"grid":false,"labelPadding":0,"labelBaseline":"middle","labelFontSize":20,"labelColor":"#1a1a1a","labelFlush":false,"labelOverlap":false,"labelExpr":"datum.value + ''","title":null}},"x2":{"datum":37.06},"y":{"datum":85.21,"type":"quantitative","scale":{"domain":[-44.25,87.27],"nice":false,"zero":false},"axis":{"orient":"left","values":[-20,0,20,40],"offset":-133.3,"domain":false,"ticks":false,"tickSize":0,"grid":false,"labelPadding":0,"labelAlign":"right","labelBaseline":"middle","labelFontSize":20,"labelColor":"#1a1a1a","labelOverlap":false,"labelExpr":"datum.value + ''","title":null}}}},
{"mark":{"type":"rule","color":"#8a8a8a"},"encoding":{"x":{"datum":-15.29,"axis":null},"y":{"datum":85.21,"axis":null},"y2":{"datum":-43.02}}},
{"data":{"values":[{"level":-20},{"level":0},{"level":20},{"level":40}]},"mark":{"type":"rule","color":"#8c8c8c"},"encoding":{"x":{"datum":-10,"axis":null},"x2":{"datum":20},"y":{"field":"level","type":"quantitative","axis":null}}},
{"mark":{"type":"rule","color":"#8c8c8c"},"encoding":{"x":{"datum":0,"axis":null},"y":{"datum":-20,"axis":null},"y2":{"datum":40}}},
{"data":{"name":"R3"},"mark":{"type":"point","shape":"diamond","filled":true,"color":"#33CCCC","size":121,"opacity":1},"encoding":{"x":{"field":"wrf","type":"quantitative","axis":null},"y":{"field":"obs","type":"quantitative","axis":null}}},
{"data":{"name":"R3"},"transform":[{"regression":"obs","on":"wrf"}],"mark":{"type":"line","color":"#1a1a1a","strokeWidth":1.1},"encoding":{"x":{"field":"wrf","type":"quantitative","axis":null},"y":{"field":"obs","type":"quantitative","axis":null}}},
{"mark":{"type":"text","style":"ttlR"},"encoding":{"x":{"datum":15.2,"axis":null},"y":{"datum":58.9,"axis":null},"text":{"value":"Zarrinshahr"}}},
{"mark":{"type":"text","style":"eqR"},"encoding":{"x":{"datum":21.31,"axis":null},"y":{"datum":50.5,"axis":null},"text":{"value":"y = 1.2835x - 2.7009"}}},
{"mark":{"type":"text","style":"eqR"},"encoding":{"x":{"datum":14.54,"axis":null},"y":{"datum":35.6,"axis":null},"text":{"value":"R = 0.964"}}},
{"mark":{"type":"point","shape":"diamond","filled":true,"color":"#33CCCC","size":121,"opacity":1},"encoding":{"x":{"datum":25.0,"axis":null},"y":{"datum":12.33,"axis":null}}},
{"mark":{"type":"text","style":"lgR"},"encoding":{"x":{"datum":27.84,"axis":null},"y":{"datum":12.33,"axis":null},"text":{"value":"Series1"}}},
{"mark":{"type":"rule","color":"#000"},"encoding":{"x":{"datum":22.45,"axis":null},"x2":{"datum":27.35},"y":{"datum":1.78,"axis":null}}},
{"mark":{"type":"text","style":"lgR"},"encoding":{"x":{"datum":27.84,"axis":null},"y":{"datum":1.78,"axis":null},"text":{"value":"Linear..."}}},
{"mark":{"type":"text","style":"axv"},"encoding":{"x":{"datum":-11.7,"axis":null},"y":{"datum":-3.42,"axis":null},"text":{"value":"Observed"}}},
{"mark":{"type":"text","style":"axh"},"encoding":{"x":{"datum":7.09,"axis":null},"y":{"datum":-32.2,"axis":null},"text":{"value":"WRF48"}}}
]}
],"spacing":0,"bounds":"flush","resolve":{"scale":{"color":"independent","shape":"independent"}}},
{"hconcat":[
{"width":560,"height":335,"data":{"values":[{}]},"layer":[
{"mark":{"type":"rect","filled":false,"stroke":"#8a8a8a","strokeWidth":1.6,"cornerRadius":20},"encoding":{"x":{"datum":-11.8,"type":"quantitative","scale":{"domain":[-13.422,22.066],"nice":false,"zero":false},"axis":null},"x2":{"datum":21.8},"y":{"datum":35.53,"type":"quantitative","scale":{"domain":[-26.415,36.792],"nice":false,"zero":false},"axis":null},"y2":{"datum":-24.91}}},
{"data":{"values":[{"level":-10},{"level":0},{"level":10},{"level":20},{"level":30}]},"mark":{"type":"rule","color":"#8c8c8c"},"encoding":{"x":{"datum":-10,"axis":null},"x2":{"datum":20},"y":{"field":"level","type":"quantitative","axis":null}}},
{"data":{"name":"L4"},"encoding":{"x":{"field":"wrf","type":"quantitative","axis":null},"y":{"field":"obs","type":"quantitative","axis":null},"shape":{"field":"marker","type":"nominal","legend":null,"scale":{"domain":["diamond","square","triangle","circle","dash","sdash","sdiamond","x","asterisk","plus"],"range":["M0,-0.95L0.95,0L0,0.95L-0.95,0Z","M-0.88,-0.88H0.88V0.88H-0.88Z","M0,-0.95L0.95,0.8H-0.95Z","M-0.95,0A0.95,0.95,0,1,0,0.95,0A0.95,0.95,0,1,0,-0.95,0Z","M-0.95,-0.2H0.95V0.2H-0.95Z","M-0.5,-0.18H0.5V0.18H-0.5Z","M0,-0.5L0.5,0L0,0.5L-0.5,0Z","M-0.8,-0.8L0.8,0.8M-0.8,0.8L0.8,-0.8","M-0.8,-0.8L0.8,0.8M-0.8,0.8L0.8,-0.8M0,-1V1","M-0.95,0H0.95M0,-0.95V0.95"]}},"color":{"field":"tone","type":"nominal","legend":null,"scale":{"domain":["purple-dark","purple","lavender","blue","blue-dark","blue-light","red","red-dark","rose","green","olive","green-light","aqua","teal-dark","aqua-light","sky","orange","orange-dark","orange-light","brown","peach"],"range":["#5F497A","#8064A2","#B3A2C7","#4F81BD","#2C4D75","#95B3D7","#C0504D","#953735","#D99694","#9BBB59","#77933C","#C3D69B","#4BACC6","#31859C","#93CDDD","#B7DEE8","#F79646","#D5782C","#FABF8F","#B8652A","#F9B596"]}}},"layer":[
{"transform":[{"filter":{"not":{"field":"marker","oneOf":["x","asterisk","plus"]}}}],"mark":{"type":"point","filled":true,"size":360,"opacity":1}},
{"transform":[{"filter":{"field":"marker","oneOf":["x","asterisk","plus"]}}],"mark":{"type":"point","filled":false,"size":360,"strokeWidth":1.3,"opacity":1}}]},
{"data":{"name":"L4"},"transform":[{"regression":"obs","on":"wrf"}],"mark":{"type":"line","color":"#1a1a1a","strokeWidth":1.1},"encoding":{"x":{"field":"wrf","type":"quantitative","axis":null},"y":{"field":"obs","type":"quantitative","axis":null}}},
{"mark":{"type":"text","style":"ttlL"},"encoding":{"x":{"datum":4.88,"axis":null},"y":{"datum":22.96,"axis":null},"text":{"value":"Shahreza"}}},
{"mark":{"type":"text","style":"eqL"},"encoding":{"x":{"datum":21.12,"axis":null},"y":{"datum":26.42,"axis":null},"text":{"value":"y = 1.2319x - 2.547"}}},
{"mark":{"type":"text","style":"rL"},"encoding":{"x":{"datum":13.48,"axis":null},"y":{"datum":19.06,"axis":null},"text":{"value":"R = 0.95"}}},
{"mark":{"type":"text","style":"lgL"},"encoding":{"x":{"datum":15.06,"axis":null},"y":{"datum":14.28,"axis":null},"text":{"value":"Series1"}}},
{"mark":{"type":"rule","color":"#000"},"encoding":{"x":{"datum":11.46,"axis":null},"x2":{"datum":14.72},"y":{"datum":0.82,"axis":null}}},
{"mark":{"type":"text","style":"lgL"},"encoding":{"x":{"datum":15.12,"axis":null},"y":{"datum":0.82,"axis":null},"text":{"value":"Linear"}}},
{"mark":{"type":"text","style":"lgL"},"encoding":{"x":{"datum":15.06,"axis":null},"y":{"datum":-4.21,"axis":null},"text":{"value":"(Series1)"}}},
{"mark":{"type":"text","style":"axv"},"encoding":{"x":{"datum":-8.65,"axis":null},"y":{"datum":4.72,"axis":null},"text":{"value":"Observed"}}},
{"mark":{"type":"text","style":"axh"},"encoding":{"x":{"datum":4.94,"axis":null},"y":{"datum":-16.35,"axis":null},"text":{"value":"WRF24"}}}
]},
{"width":538,"height":335,"data":{"values":[{}]},"resolve":{"axis":{"x":"independent","y":"independent"}},"layer":[
{"mark":{"type":"rule","color":"#8a8a8a"},"encoding":{"x":{"datum":-27.48,"type":"quantitative","scale":{"domain":[-28.299,44.898],"nice":false,"zero":false},"axis":{"orient":"bottom","values":[-20,0,20],"offset":-70,"domain":false,"ticks":false,"tickSize":0,"grid":false,"labelPadding":0,"labelBaseline":"middle","labelFontSize":20,"labelColor":"#1a1a1a","labelFlush":false,"labelOverlap":false,"labelExpr":"datum.value + ''","title":null}},"x2":{"datum":44.76},"y":{"datum":86.36,"type":"quantitative","scale":{"domain":[-41.41,89.09],"nice":false,"zero":false},"axis":{"orient":"left","values":[-20,0,20,40],"offset":-182.7,"domain":false,"ticks":false,"tickSize":0,"grid":false,"labelPadding":0,"labelAlign":"right","labelBaseline":"middle","labelFontSize":20,"labelColor":"#1a1a1a","labelOverlap":false,"labelExpr":"datum.value + ''","title":null}}}},
{"mark":{"type":"rule","color":"#8a8a8a"},"encoding":{"x":{"datum":-27.48,"axis":null},"y":{"datum":86.36,"axis":null},"y2":{"datum":-40.64}}},
{"mark":{"type":"rule","color":"#8a8a8a"},"encoding":{"x":{"datum":44.76,"axis":null},"y":{"datum":86.36,"axis":null},"y2":{"datum":-40.64}}},
{"data":{"values":[{"level":-20},{"level":0},{"level":20},{"level":40}]},"mark":{"type":"rule","color":"#8c8c8c"},"encoding":{"x":{"datum":-20,"axis":null},"x2":{"datum":20},"y":{"field":"level","type":"quantitative","axis":null}}},
{"mark":{"type":"rule","color":"#8c8c8c"},"encoding":{"x":{"datum":0,"axis":null},"y":{"datum":-20,"axis":null},"y2":{"datum":40}}},
{"data":{"name":"R4"},"mark":{"type":"point","shape":"diamond","filled":true,"color":"#33CCCC","size":121,"opacity":1},"encoding":{"x":{"field":"wrf","type":"quantitative","axis":null},"y":{"field":"obs","type":"quantitative","axis":null}}},
{"data":{"name":"R4"},"transform":[{"regression":"obs","on":"wrf"}],"mark":{"type":"line","color":"#1a1a1a","strokeWidth":1.1},"encoding":{"x":{"field":"wrf","type":"quantitative","axis":null},"y":{"field":"obs","type":"quantitative","axis":null}}},
{"mark":{"type":"text","style":"ttlR"},"encoding":{"x":{"datum":12.68,"axis":null},"y":{"datum":61.56,"axis":null},"text":{"value":"Shahreza"}}},
{"mark":{"type":"text","style":"eqR"},"encoding":{"x":{"datum":23.56,"axis":null},"y":{"datum":44.4,"axis":null},"text":{"value":"y = 1.2171x - 2.3661"}}},
{"mark":{"type":"text","style":"eqR"},"encoding":{"x":{"datum":14.31,"axis":null},"y":{"datum":30.0,"axis":null},"text":{"value":"R = 0.943"}}},
{"mark":{"type":"point","shape":"diamond","filled":true,"color":"#33CCCC","size":121,"opacity":1},"encoding":{"x":{"datum":26.87,"axis":null},"y":{"datum":13.12,"axis":null}}},
{"mark":{"type":"text","style":"lgR"},"encoding":{"x":{"datum":30.95,"axis":null},"y":{"datum":13.12,"axis":null},"text":{"value":"Series1"}}},
{"mark":{"type":"rule","color":"#000"},"encoding":{"x":{"datum":23.47,"axis":null},"x2":{"datum":29.82},"y":{"datum":2.73,"axis":null}}},
{"mark":{"type":"text","style":"lgR"},"encoding":{"x":{"datum":31.18,"axis":null},"y":{"datum":2.73,"axis":null},"text":{"value":"Linea..."}}},
{"mark":{"type":"text","style":"axv"},"encoding":{"x":{"datum":-22.11,"axis":null},"y":{"datum":-1.17,"axis":null},"text":{"value":"Observed"}}},
{"mark":{"type":"text","style":"axh"},"encoding":{"x":{"datum":4.19,"axis":null},"y":{"datum":-32.34,"axis":null},"text":{"value":"WRF48"}}}
]}
],"spacing":0,"bounds":"flush","resolve":{"scale":{"color":"independent","shape":"independent"}}},
{"hconcat":[
{"width":560,"height":334,"data":{"values":[{}]},"layer":[
{"mark":{"type":"rect","filled":false,"stroke":"#8a8a8a","strokeWidth":1.6,"cornerRadius":20},"encoding":{"x":{"datum":-11.87,"type":"quantitative","scale":{"domain":[-13.613,22.003],"nice":false,"zero":false},"axis":null},"x2":{"datum":21.85},"y":{"datum":28.74,"type":"quantitative","scale":{"domain":[-13.135,30.485],"nice":false,"zero":false},"axis":null},"y2":{"datum":-12.88}}},
{"data":{"values":[{"level":-10},{"level":-5},{"level":0},{"level":5},{"level":10},{"level":15},{"level":20},{"level":25}]},"mark":{"type":"rule","color":"#8c8c8c"},"encoding":{"x":{"datum":-10,"axis":null},"x2":{"datum":20},"y":{"field":"level","type":"quantitative","axis":null}}},
{"data":{"name":"L5"},"encoding":{"x":{"field":"wrf","type":"quantitative","axis":null},"y":{"field":"obs","type":"quantitative","axis":null},"shape":{"field":"marker","type":"nominal","legend":null,"scale":{"domain":["diamond","square","triangle","circle","dash","sdash","sdiamond","x","asterisk","plus"],"range":["M0,-0.95L0.95,0L0,0.95L-0.95,0Z","M-0.88,-0.88H0.88V0.88H-0.88Z","M0,-0.95L0.95,0.8H-0.95Z","M-0.95,0A0.95,0.95,0,1,0,0.95,0A0.95,0.95,0,1,0,-0.95,0Z","M-0.95,-0.2H0.95V0.2H-0.95Z","M-0.5,-0.18H0.5V0.18H-0.5Z","M0,-0.5L0.5,0L0,0.5L-0.5,0Z","M-0.8,-0.8L0.8,0.8M-0.8,0.8L0.8,-0.8","M-0.8,-0.8L0.8,0.8M-0.8,0.8L0.8,-0.8M0,-1V1","M-0.95,0H0.95M0,-0.95V0.95"]}},"color":{"field":"tone","type":"nominal","legend":null,"scale":{"domain":["purple-dark","purple","lavender","blue","blue-dark","blue-light","red","red-dark","rose","green","olive","green-light","aqua","teal-dark","aqua-light","sky","orange","orange-dark","orange-light","brown","peach"],"range":["#5F497A","#8064A2","#B3A2C7","#4F81BD","#2C4D75","#95B3D7","#C0504D","#953735","#D99694","#9BBB59","#77933C","#C3D69B","#4BACC6","#31859C","#93CDDD","#B7DEE8","#F79646","#D5782C","#FABF8F","#B8652A","#F9B596"]}}},"layer":[
{"transform":[{"filter":{"not":{"field":"marker","oneOf":["x","asterisk","plus"]}}}],"mark":{"type":"point","filled":true,"size":360,"opacity":1}},
{"transform":[{"filter":{"field":"marker","oneOf":["x","asterisk","plus"]}}],"mark":{"type":"point","filled":false,"size":360,"strokeWidth":1.3,"opacity":1}}]},
{"data":{"name":"L5"},"transform":[{"regression":"obs","on":"wrf"}],"mark":{"type":"line","color":"#1a1a1a","strokeWidth":1.1},"encoding":{"x":{"field":"wrf","type":"quantitative","axis":null},"y":{"field":"obs","type":"quantitative","axis":null}}},
{"mark":{"type":"text","style":"rL"},"encoding":{"x":{"datum":12.83,"axis":null},"y":{"datum":19.38,"axis":null},"text":{"value":"R = 0.962"}}},
{"mark":{"type":"text","style":"ttlL"},"encoding":{"x":{"datum":5.05,"axis":null},"y":{"datum":20.12,"axis":null},"text":{"value":"Moorchehkhort"}}},
{"mark":{"type":"text","style":"eqL"},"encoding":{"x":{"datum":21.17,"axis":null},"y":{"datum":24.39,"axis":null},"text":{"value":"y = 1.0798x - 1.9374"}}},
{"mark":{"type":"text","style":"lgL"},"encoding":{"x":{"datum":14.97,"axis":null},"y":{"datum":13.94,"axis":null},"text":{"value":"Series1"}}},
{"mark":{"type":"rule","color":"#000"},"encoding":{"x":{"datum":11.47,"axis":null},"x2":{"datum":14.75},"y":{"datum":4.71,"axis":null}}},
{"mark":{"type":"text","style":"lgL"},"encoding":{"x":{"datum":15.13,"axis":null},"y":{"datum":4.71,"axis":null},"text":{"value":"Linear"}}},
{"mark":{"type":"text","style":"lgL"},"encoding":{"x":{"datum":15.08,"axis":null},"y":{"datum":1.23,"axis":null},"text":{"value":"(Series1)"}}},
{"mark":{"type":"text","style":"axv"},"encoding":{"x":{"datum":-8.6,"axis":null},"y":{"datum":7.41,"axis":null},"text":{"value":"Observed"}}},
{"mark":{"type":"text","style":"axh"},"encoding":{"x":{"datum":5.05,"axis":null},"y":{"datum":-7.3,"axis":null},"text":{"value":"WRF24"}}}
]},
{"width":538,"height":334,"data":{"values":[{}]},"resolve":{"axis":{"x":"independent","y":"independent"}},"layer":[
{"mark":{"type":"rule","color":"#8a8a8a"},"encoding":{"x":{"datum":-27.35,"type":"quantitative","scale":{"domain":[-28.299,44.898],"nice":false,"zero":false},"axis":{"orient":"bottom","values":[-20,0,20],"offset":-51.3,"domain":false,"ticks":false,"tickSize":0,"grid":false,"labelPadding":0,"labelBaseline":"middle","labelFontSize":20,"labelColor":"#1a1a1a","labelFlush":false,"labelOverlap":false,"labelExpr":"datum.value + ''","title":null}},"x2":{"datum":44.76},"y":{"datum":60.45,"type":"quantitative","scale":{"domain":[-22.38,63.81],"nice":false,"zero":false},"axis":{"orient":"left","values":[-10,0,10,20,30],"offset":-182.7,"domain":false,"ticks":false,"tickSize":0,"grid":false,"labelPadding":0,"labelAlign":"right","labelBaseline":"middle","labelFontSize":20,"labelColor":"#1a1a1a","labelOverlap":false,"labelExpr":"datum.value + ''","title":null}}}},
{"mark":{"type":"rule","color":"#8a8a8a"},"encoding":{"x":{"datum":-27.35,"axis":null},"y":{"datum":60.45,"axis":null},"y2":{"datum":-22.3}}},
{"mark":{"type":"rule","color":"#8a8a8a"},"encoding":{"x":{"datum":44.76,"axis":null},"y":{"datum":60.45,"axis":null},"y2":{"datum":-22.3}}},
{"data":{"values":[{"level":-10},{"level":0},{"level":10},{"level":20},{"level":30}]},"mark":{"type":"rule","color":"#8c8c8c"},"encoding":{"x":{"datum":-20,"axis":null},"x2":{"datum":20},"y":{"field":"level","type":"quantitative","axis":null}}},
{"mark":{"type":"rule","color":"#8c8c8c"},"encoding":{"x":{"datum":0,"axis":null},"y":{"datum":-10,"axis":null},"y2":{"datum":30}}},
{"data":{"name":"R5"},"mark":{"type":"point","shape":"diamond","filled":true,"color":"#33CCCC","size":121,"opacity":1},"encoding":{"x":{"field":"wrf","type":"quantitative","axis":null},"y":{"field":"obs","type":"quantitative","axis":null}}},
{"data":{"name":"R5"},"transform":[{"regression":"obs","on":"wrf"}],"mark":{"type":"line","color":"#1a1a1a","strokeWidth":1.1},"encoding":{"x":{"field":"wrf","type":"quantitative","axis":null},"y":{"field":"obs","type":"quantitative","axis":null}}},
{"mark":{"type":"text","style":"ttlR"},"encoding":{"x":{"datum":16.78,"axis":null},"y":{"datum":43.96,"axis":null},"text":{"value":"Moorchehkhort"}}},
{"mark":{"type":"text","style":"eqR"},"encoding":{"x":{"datum":23.45,"axis":null},"y":{"datum":36.0,"axis":null},"text":{"value":"y = 1.0585x - 1.6726"}}},
{"mark":{"type":"text","style":"eqR"},"encoding":{"x":{"datum":14.01,"axis":null},"y":{"datum":26.49,"axis":null},"text":{"value":"R = 0.949"}}},
{"mark":{"type":"point","shape":"diamond","filled":true,"color":"#33CCCC","size":121,"opacity":1},"encoding":{"x":{"datum":26.67,"axis":null},"y":{"datum":11.87,"axis":null}}},
{"mark":{"type":"text","style":"lgR"},"encoding":{"x":{"datum":30.84,"axis":null},"y":{"datum":11.87,"axis":null},"text":{"value":"Series1"}}},
{"mark":{"type":"rule","color":"#000"},"encoding":{"x":{"datum":23.27,"axis":null},"x2":{"datum":29.93},"y":{"datum":4.56,"axis":null}}},
{"mark":{"type":"text","style":"lgR"},"encoding":{"x":{"datum":31.07,"axis":null},"y":{"datum":4.56,"axis":null},"text":{"value":"Linea..."}}},
{"mark":{"type":"text","style":"axv"},"encoding":{"x":{"datum":-22.22,"axis":null},"y":{"datum":1.98,"axis":null},"text":{"value":"Observed"}}},
{"mark":{"type":"text","style":"axh"},"encoding":{"x":{"datum":3.17,"axis":null},"y":{"datum":-18.67,"axis":null},"text":{"value":"WRF48"}}}
]}
],"spacing":0,"bounds":"flush","resolve":{"scale":{"color":"independent","shape":"independent"}}}
],
"config":{
"view":{"stroke":null},
"font":"Lato",
"text":{"color":"#000000"},
"style":{
"ttlL":{"fontSize":43,"fontWeight":"bold","align":"center","baseline":"alphabetic"},
"ttlR":{"fontSize":40,"fontWeight":"bold","align":"center","baseline":"alphabetic"},
"eqL":{"fontSize":29,"align":"right","baseline":"alphabetic"},
"rL":{"fontSize":28,"align":"center","baseline":"alphabetic"},
"eqR":{"fontSize":28,"fontWeight":"bold","align":"center","baseline":"alphabetic"},
"lgL":{"fontSize":21,"align":"left","baseline":"middle"},
"lgR":{"fontSize":19,"align":"left","baseline":"middle"},
"axh":{"fontSize":23,"fontWeight":"bold","align":"center","baseline":"middle"},
"axv":{"fontSize":23,"fontWeight":"bold","align":"center","baseline":"middle","angle":270}
}
}
}
